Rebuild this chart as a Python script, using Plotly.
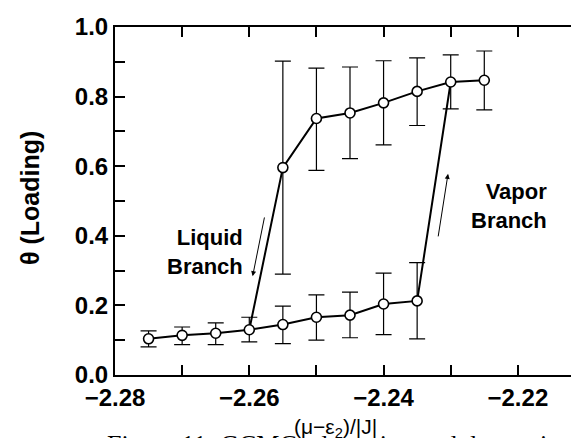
import plotly.graph_objects as go

# ---- data ----
lower_x = [-2.275, -2.27, -2.265, -2.26, -2.255, -2.25, -2.245, -2.24, -2.235]
lower_y = [0.104, 0.114, 0.120, 0.130, 0.145, 0.166, 0.172, 0.204, 0.213]
lower_hi = [0.127, 0.138, 0.150, 0.166, 0.198, 0.230, 0.238, 0.293, 0.323]
lower_lo = [0.081, 0.087, 0.087, 0.095, 0.090, 0.100, 0.107, 0.116, 0.104]

upper_x = [-2.255, -2.25, -2.245, -2.24, -2.235, -2.23, -2.225]
upper_y = [0.596, 0.737, 0.753, 0.782, 0.815, 0.842, 0.847]
upper_hi = [0.902, 0.882, 0.885, 0.903, 0.911, 0.920, 0.931]
upper_lo = [0.290, 0.588, 0.622, 0.661, 0.717, 0.765, 0.762]

x_tickvals = [-2.28, -2.27, -2.26, -2.25, -2.24, -2.23, -2.22, -2.21]
x_ticktext = ["−2.28", "", "−2.26", "", "−2.24", "", "−2.22", ""]
y_tickvals = [0.0, 0.1, 0.2, 0.3, 0.4, 0.5, 0.6, 0.7, 0.8, 0.9, 1.0]
y_ticktext = ["0.0", "", "0.2", "", "0.4", "", "0.6", "", "0.8", "", "1.0"]

# ---- figure ----
fig = go.Figure()

ads_x = lower_x + [upper_x[5]]
ads_y = lower_y + [upper_y[5]]
des_x = upper_x[::-1] + [lower_x[3]]
des_y = upper_y[::-1] + [lower_y[3]]
for xs, ys in [(ads_x, ads_y), (des_x, des_y)]:
    fig.add_trace(go.Scatter(x=xs, y=ys, mode="lines",
                             line=dict(color="black", width=2),
                             showlegend=False, hoverinfo="skip"))

marker = dict(symbol="circle", size=10, color="white",
              line=dict(color="black", width=1.6))
for xs, ys, hi, lo in [(lower_x, lower_y, lower_hi, lower_lo),
                       (upper_x, upper_y, upper_hi, upper_lo)]:
    fig.add_trace(go.Scatter(
        x=xs, y=ys, mode="markers", marker=marker, showlegend=False,
        error_y=dict(type="data", symmetric=False,
                     array=[h - v for h, v in zip(hi, ys)],
                     arrayminus=[v - l for v, l in zip(ys, lo)],
                     color="black", thickness=1.2, width=8)))

SANS = "Liberation Sans, Arial, sans-serif"
bold = dict(family=SANS, size=24, color="black", weight="bold")

axis_common = dict(showgrid=False, zeroline=False, showline=True,
                   linecolor="black", linewidth=2, mirror="ticks",
                   ticks="inside", ticklen=10, tickwidth=1.5,
                   tickcolor="black", tickfont=bold)

fig.update_xaxes(range=[-2.28, -2.21], tickmode="array",
                 tickvals=x_tickvals, ticktext=x_ticktext, **axis_common)
fig.update_yaxes(range=[0, 1.0], tickmode="array",
                 tickvals=y_tickvals, ticktext=y_ticktext, **axis_common)

ann = []
ann.append(dict(x=-2.2595, y=0.284, ax=-2.2577, ay=0.457,
                xref="x", yref="y", axref="x", ayref="y",
                showarrow=True, arrowhead=2, arrowsize=1, arrowwidth=1,
                arrowcolor="black", text=""))
ann.append(dict(x=-2.2304, y=0.578, ax=-2.2319, ay=0.394,
                xref="x", yref="y", axref="x", ayref="y",
                showarrow=True, arrowhead=2, arrowsize=1, arrowwidth=1,
                arrowcolor="black", text=""))
ann.append(dict(x=-2.2606, y=0.353, xref="x", yref="y", text="Liquid<br>Branch",
                showarrow=False, xanchor="right", yanchor="middle", align="right",
                font=dict(family=SANS, size=22, color="black", weight="bold")))
ann.append(dict(x=-2.2154, y=0.486, xref="x", yref="y", text="Vapor<br>Branch",
                showarrow=False, xanchor="right", yanchor="middle", align="right",
                font=dict(family=SANS, size=22, color="black", weight="bold")))
ann.append(dict(x=-0.182, y=0.51, xref="paper", yref="paper", text="θ (Loading)",
                textangle=-90, showarrow=False, xanchor="center", yanchor="middle",
                font=dict(family=SANS, size=25, color="black", weight="bold")))
ann.append(dict(x=0.47, y=-0.152, xref="paper", yref="paper",
                text="(μ−ε<sub>2</sub>)/|J|",
                showarrow=False, xanchor="center", yanchor="middle",
                font=dict(family=SANS, size=21, color="black")))
ann.append(dict(x=-0.021, y=-0.199, xref="paper", yref="paper",
                text="Figure 11: GCMC adsorption and desorption isotherms",
                showarrow=False, xanchor="left", yanchor="middle",
                font=dict(family="Liberation Serif, Times New Roman, serif", size=26,
                          color="black")))

fig.update_layout(width=579, height=438,
                  margin=dict(l=107, r=0, t=19, b=71),
                  plot_bgcolor="white", paper_bgcolor="white",
                  annotations=ann, showlegend=False)

fig.write_html("out.html")
